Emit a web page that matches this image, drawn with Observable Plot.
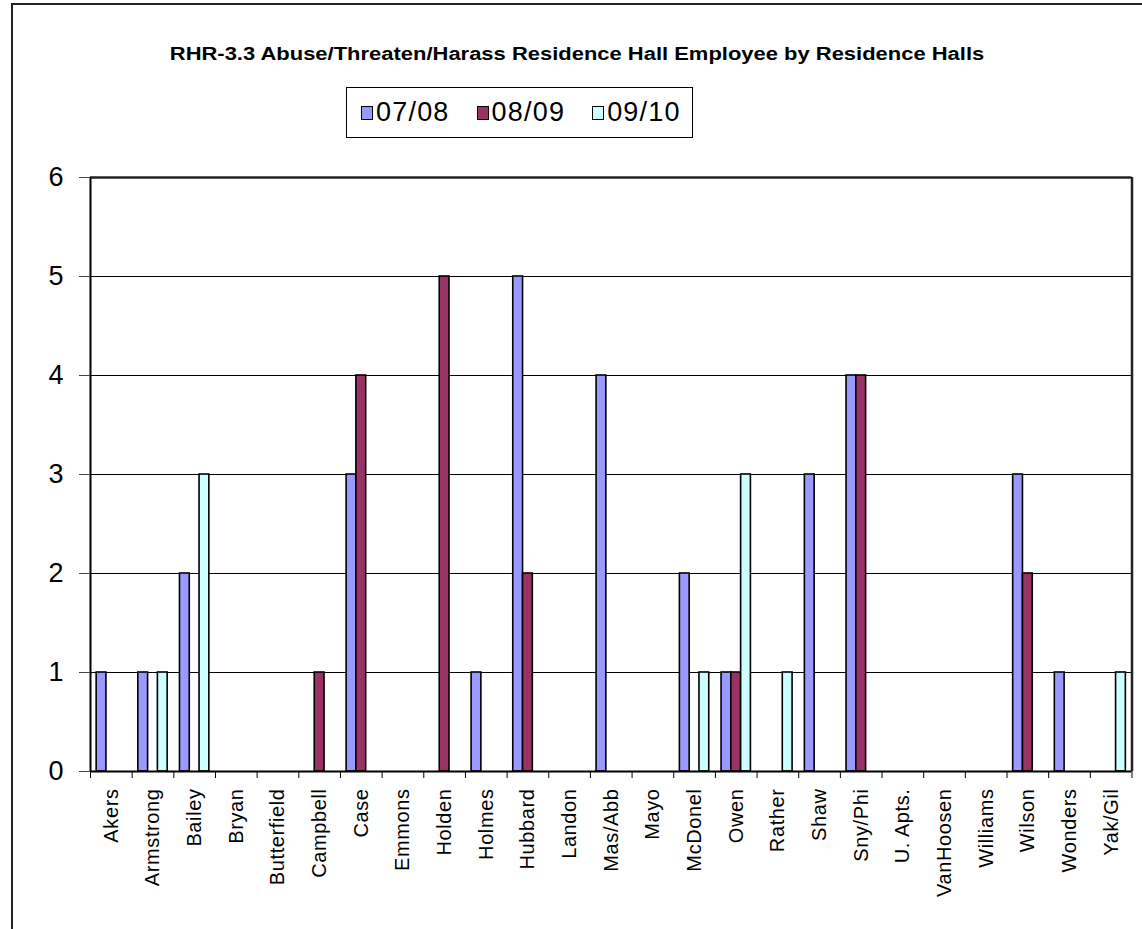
<!DOCTYPE html>
<html>
<head>
<meta charset="utf-8">
<script src="https://cdn.jsdelivr.net/npm/d3@7"></script>
<script src="https://cdn.jsdelivr.net/npm/@observablehq/plot@0.6"></script>
<style>
  html, body { margin: 0; padding: 0; background: #fff; overflow: hidden; }
  #wrap { position: relative; width: 1142px; height: 929px; font-family: "Liberation Sans", Arial, sans-serif; }
  #border { position: absolute; left: 11px; top: 3px; width: 1200px; height: 1000px; border-left: 2px solid #222; border-top: 2px solid #222; pointer-events: none; z-index: 5; }
  #title { position: absolute; left: 576.5px; top: 45px; font-size: 18px; line-height: 18px; font-weight: bold; white-space: nowrap; transform: translateX(-50%) scaleX(1.22); z-index: 3; }
  #legend { position: absolute; left: 346px; top: 87px; width: 347px; height: 51px; box-sizing: border-box; border: 1px solid #000; background: #fff; display: flex; align-items: center; padding-left: 14px; gap: 27px; z-index: 3; }
  .item { display: flex; align-items: center; }
  .sw { width: 12px; height: 14px; box-sizing: border-box; border: 1.5px solid #000; margin-right: 3px; }
  .lab { font-size: 27px; line-height: 27px; letter-spacing: 1.2px; }
  #chart { position: absolute; left: 0; top: 0; }
  #chart g[aria-label="x-axis tick label"] text { letter-spacing: 0.6px; }
</style>
</head>
<body>
<div id="wrap">
  <div id="border"></div>
  <div id="title"></div>
  <div id="legend"></div>
  <div id="chart"></div>
</div>
<script>
const title = "RHR-3.3 Abuse/Threaten/Harass Residence Hall Employee by Residence Halls";
const halls = ["Akers","Armstrong","Bailey","Bryan","Butterfield","Campbell","Case","Emmons","Holden","Holmes","Hubbard","Landon","Mas/Abb","Mayo","McDonel","Owen","Rather","Shaw","Sny/Phi","U. Apts.","VanHoosen","Williams","Wilson","Wonders","Yak/Gil"];
const seriesNames = ["07/08","08/09","09/10"];
const v0708 = [1,1,2,0,0,0,3,0,0,1,5,0,4,0,2,1,0,3,4,0,0,0,3,1,0];
const v0809 = [0,0,0,0,0,1,4,0,5,0,2,0,0,0,0,1,0,0,4,0,0,0,2,0,0];
const v0910 = [0,1,3,0,0,0,0,0,0,0,0,0,0,0,1,3,1,0,0,0,0,0,0,0,1];
const seriesColors = ["#9999FF","#993366","#CCFFFF"];
const yTicks = [0,1,2,3,4,5,6];

const seriesValues = [v0708, v0809, v0910];
const rows = [];
halls.forEach((h, i) => {
  seriesNames.forEach((s, j) => {
    const v = seriesValues[j][i];
    if (v > 0) rows.push({i, j, hall: h, series: s, value: v});
  });
});

// group layout within each category band (fractions of the band)
const barW = 0.235;
const groupPad = (1 - 3 * barW) / 2;

document.getElementById("title").textContent = title;
const legend = document.getElementById("legend");
seriesNames.forEach((s, j) => {
  const it = document.createElement("div");
  it.className = "item";
  const sw = document.createElement("div");
  sw.className = "sw";
  sw.style.background = seriesColors[j];
  const lb = document.createElement("span");
  lb.className = "lab";
  lb.textContent = s;
  it.appendChild(sw); it.appendChild(lb);
  legend.appendChild(it);
});

const chart = Plot.plot({
  width: 1142,
  height: 929,
  marginLeft: 90,
  marginRight: 10.5,
  marginTop: 177,
  marginBottom: 158,
  style: {fontFamily: "'Liberation Sans', Arial, sans-serif", background: "transparent", overflow: "visible"},
  x: {domain: [0, halls.length], axis: null},
  y: {domain: [0, 6], axis: null},
  color: {domain: seriesNames, range: seriesColors},
  marks: [
    Plot.ruleY([1,2,3,4,5], {stroke: "#000", strokeWidth: 1}),
    Plot.rectY(rows, {
      x1: d => d.i + groupPad + d.j * barW,
      x2: d => d.i + groupPad + (d.j + 1) * barW,
      y: "value",
      fill: "series",
      stroke: "#000",
      strokeWidth: 1.6
    }),
    Plot.ruleY([6], {stroke: "#222", strokeWidth: 2.5}),
    Plot.ruleX([halls.length], {y1: 0, y2: 6, stroke: "#222", strokeWidth: 2.5}),
    Plot.ruleX([0], {y1: 0, y2: 6, stroke: "#000", strokeWidth: 2}),
    Plot.ruleY([0], {stroke: "#000", strokeWidth: 2}),
    Plot.axisY({ticks: yTicks, tickSize: 11, tickPadding: 16, fontSize: 27, tickFormat: d => String(d), label: null, stroke: "#444"}),
    Plot.axisX({ticks: d3.range(0, halls.length + 1), tickSize: 7, tickFormat: () => "", label: null, stroke: "#000"}),
    Plot.axisX({ticks: halls.map((_, i) => i + 0.5), tickSize: 0, tickPadding: 17, tickRotate: -90, fontSize: 20, tickFormat: d => halls[Math.floor(d)], label: null, fill: "#000"})
  ]
});
document.getElementById("chart").appendChild(chart);
</script>
</body>
</html>
